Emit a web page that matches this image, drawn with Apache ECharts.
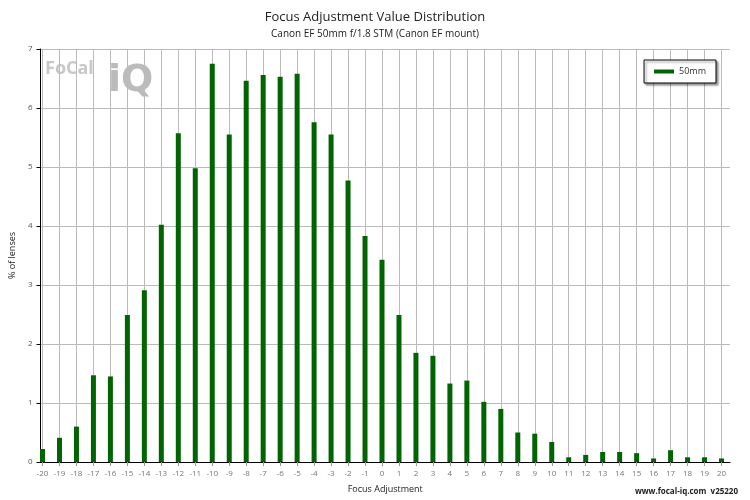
<!DOCTYPE html>
<html><head><meta charset="utf-8">
<script src="https://cdn.jsdelivr.net/npm/echarts@6/dist/echarts.min.js"></script>
<style>html,body{margin:0;padding:0;background:#fff}#c{width:750px;height:500px}</style>
</head><body><div id="c"></div>
<script>
const categories = ['-20','-19','-18','-17','-16','-15','-14','-13','-12','-11','-10','-9','-8','-7','-6','-5','-4','-3','-2','-1','0','1','2','3','4','5','6','7','8','9','10','11','12','13','14','15','16','17','18','19','20'];
const values50mm = [0.22,0.41,0.60,1.47,1.45,2.49,2.91,4.02,5.57,4.98,6.75,5.55,6.46,6.56,6.53,6.58,5.76,5.55,4.77,3.83,3.43,2.49,1.85,1.80,1.33,1.38,1.02,0.90,0.50,0.48,0.34,0.08,0.12,0.17,0.17,0.15,0.06,0.20,0.08,0.08,0.06];
const yTicks = [0,1,2,3,4,5,6,7];
const f = 'Open Sans';
const chart = echarts.init(document.getElementById('c'));
chart.setOption({
  animation:false,
  textStyle:{fontFamily:f},
  title:{text:'Focus Adjustment Value Distribution',subtext:'Canon EF 50mm f/1.8 STM (Canon EF mount)',left:'center',top:6,itemGap:5,
    textStyle:{fontFamily:f,fontSize:13,fontWeight:'normal',color:'#222'},subtextStyle:{fontFamily:f,fontSize:10,color:'#222'}},
  legend:{right:34,top:60,padding:[7,10],borderColor:'#000',borderWidth:1,backgroundColor:'#fff',
    shadowColor:'rgba(0,0,0,0.4)',shadowOffsetX:2,shadowOffsetY:2,shadowBlur:2,
    itemWidth:20,itemHeight:4,textStyle:{fontFamily:f,fontSize:9,color:'#333'},data:[{name:'50mm',icon:'rect'}]},
  grid:[{left:34,right:20,top:49,bottom:38},{left:42.5,right:28.5,top:49,bottom:38}],
  xAxis:[
    {gridIndex:0,type:'value',min:0,max:1,axisLabel:{show:false},axisTick:{show:false},splitLine:{show:false},
     axisLine:{lineStyle:{color:'#000'}},name:'Focus Adjustment',nameLocation:'middle',nameGap:23,nameTextStyle:{fontFamily:f,fontSize:9,color:'#222'}},
    {gridIndex:1,type:'category',data:categories,boundaryGap:false,axisLine:{show:false},
     axisTick:{show:true,length:4,lineStyle:{color:'#999'}},
     axisLabel:{interval:0,fontSize:8,color:'#777',margin:8},
     splitLine:{show:true,lineStyle:{color:'#bbb'}}}
  ],
  yAxis:[
    {gridIndex:0,type:'value',min:0,max:7,interval:1,axisLine:{show:true,lineStyle:{color:'#000'}},axisTick:{show:true,length:4,lineStyle:{color:'#000'}},
     axisLabel:{fontSize:8,color:'#555',margin:8},splitLine:{lineStyle:{color:'#bbb'}},
     name:'% of lenses',nameLocation:'middle',nameGap:20,nameTextStyle:{fontFamily:f,fontSize:9,color:'#222'}},
    {gridIndex:1,type:'value',min:0,max:7,show:false}
  ],
  series:[{name:'50mm',type:'bar',xAxisIndex:1,yAxisIndex:1,data:values50mm,barWidth:5,itemStyle:{color:'#006400'}}],
  graphic:[
    {type:'text',left:45,top:60,style:{text:'FoCal',font:'bold 18px Open Sans',fill:'#c8c8c8'}},
    {type:'text',left:108,top:62,style:{text:'iQ',font:'bold 38px DejaVu Sans',fill:'#bbb'}},
    {type:'text',right:12,bottom:4,style:{text:'www.focal-iq.com  v25220',font:'bold 8px Open Sans',fill:'#222'}}
  ]
});
</script></body></html>
